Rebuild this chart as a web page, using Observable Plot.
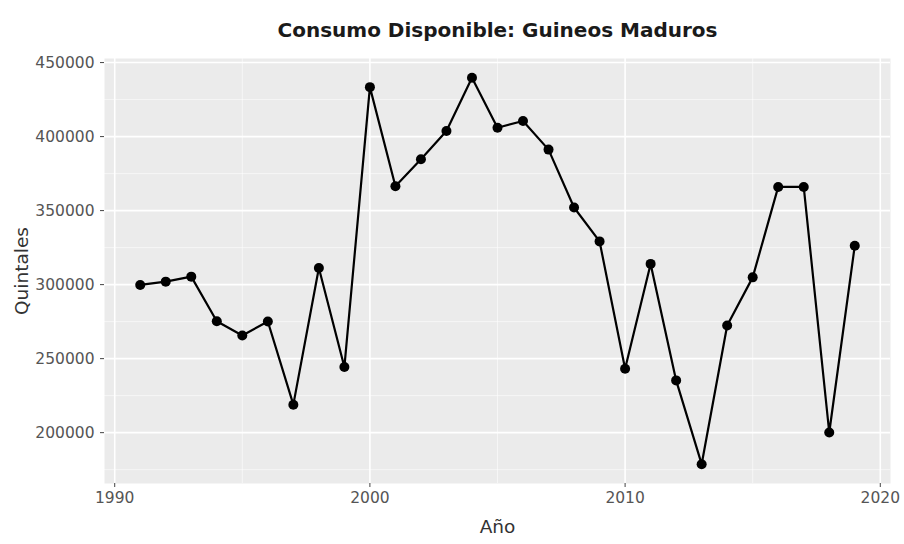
<!DOCTYPE html>
<html>
<head>
<meta charset="utf-8">
<script src="https://cdn.jsdelivr.net/npm/d3@7"></script>
<script src="https://cdn.jsdelivr.net/npm/@observablehq/plot@0.6"></script>
<style>
  html, body { margin: 0; padding: 0; background: #ffffff; }
  #chart svg { display: block; }
</style>
</head>
<body>
<div id="chart"></div>
<script>
const years = [1991,1992,1993,1994,1995,1996,1997,1998,1999,2000,2001,2002,2003,2004,2005,2006,2007,2008,2009,2010,2011,2012,2013,2014,2015,2016,2017,2018,2019];
const quintales = [299800,302000,305400,275300,265600,275100,218900,311200,244300,433400,366500,384700,403800,439700,406000,410500,391200,352100,329200,243200,314000,235300,178700,272400,304900,366000,366000,200100,326300];
const xTicks = [1990, 2000, 2010, 2020];
const xMinor = [1995, 2005, 2015];
const yTicks = [200000, 250000, 300000, 350000, 400000, 450000];
const yMinor = [175000, 225000, 275000, 325000, 375000, 425000];
const titleText = "Consumo Disponible: Guineos Maduros";
const xTitle = "Año";
const yTitle = "Quintales";

const data = years.map((y, i) => ({year: y, value: quintales[i]}));

function expand([a, b], f = 0.05) { const d = (b - a) * f; return [a - d, b + d]; }
const xDomain = expand(d3.extent(years));
const yDomain = expand(d3.extent(quintales));

const font = "DejaVu Sans, Verdana, sans-serif";

const chart = Plot.plot({
  width: 904,
  height: 544,
  marginTop: 58,
  marginBottom: 61,
  marginLeft: 104,
  marginRight: 14,
  style: {fontFamily: font, background: "#ffffff"},
  x: {domain: xDomain, axis: null},
  y: {domain: yDomain, axis: null},
  marks: [
    Plot.frame({fill: "#ebebeb", stroke: null}),
    Plot.gridX(xMinor, {stroke: "#ffffff", strokeOpacity: 0.8, strokeWidth: 0.7}),
    Plot.gridY(yMinor, {stroke: "#ffffff", strokeOpacity: 0.8, strokeWidth: 0.7}),
    Plot.gridX(xTicks, {stroke: "#ffffff", strokeOpacity: 1, strokeWidth: 1.6}),
    Plot.gridY(yTicks, {stroke: "#ffffff", strokeOpacity: 1, strokeWidth: 1.6}),
    Plot.axisX(xTicks, {tickSize: 4, tickPadding: 4, tickFormat: d => String(d), fontSize: 15.5, color: "#555555", stroke: "#444444", label: null}),
    Plot.axisY(yTicks, {tickSize: 4, tickPadding: 6, tickFormat: d => String(d), fontSize: 15.5, color: "#555555", stroke: "#444444", label: null}),
    Plot.line(data, {x: "year", y: "value", stroke: "#000000", strokeWidth: 2.2}),
    Plot.dot(data, {x: "year", y: "value", r: 5, fill: "#000000", stroke: null}),
    Plot.text([titleText], {frameAnchor: "top", dy: -36, fontSize: 20, fontWeight: "bold", fill: "#1a1a1a"}),
    Plot.text([xTitle], {frameAnchor: "bottom", dy: 49, fontSize: 18.5, fill: "#333333"}),
    Plot.text([yTitle], {frameAnchor: "left", textAnchor: "middle", dx: -82, rotate: -90, fontSize: 18.5, fill: "#333333"})
  ]
});
document.getElementById("chart").appendChild(chart);
</script>
</body>
</html>
